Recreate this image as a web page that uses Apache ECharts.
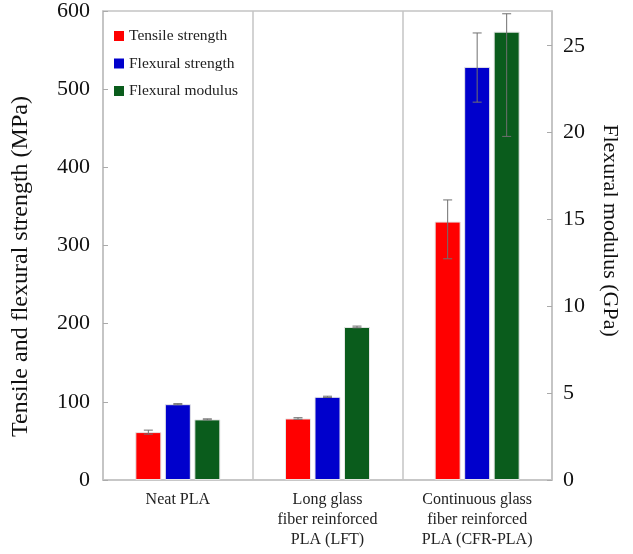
<!DOCTYPE html>
<html>
<head>
<meta charset="utf-8">
<script src="https://cdn.jsdelivr.net/npm/echarts@6/dist/echarts.min.js"></script>
<style>html,body{margin:0;padding:0;background:#fff;}#chart{width:633px;height:554px;}</style>
</head>
<body>
<div id="chart"></div>
<script>
// ---- data ----
const categories = ['Neat PLA', 'Long glass\nfiber reinforced\nPLA (LFT)', 'Continuous glass\nfiber reinforced\nPLA (CFR-PLA)'];
const seriesNames = ['Tensile strength', 'Flexural strength', 'Flexural modulus'];
const tensile = [61.3, 78.7, 330.6];          // MPa
const tensileLow = [58.7, 77.7, 283.0];
const tensileHigh = [63.8, 79.7, 358.3];
const flexStrength = [97.0, 106.4, 528.5];    // MPa
const flexStrengthLow = [96.3, 105.6, 483.4];
const flexStrengthHigh = [97.7, 107.2, 571.9];
const flexModulus = [3.49, 8.81, 25.81];      // GPa
const flexModulusLow = [3.46, 8.76, 19.78];
const flexModulusHigh = [3.52, 8.86, 26.84];
const leftTicks = [0, 600, 100];   // min, max, interval
const rightTicks = [0, 27, 5];

// ---- styles ----
const FONT = 'Liberation Serif';
const colors = ['#ff0000', '#0000cc', '#0a5c1c'];
const BAR_W = 26, BAR_GAP_PX = 3.5;
const offsets = [-(BAR_W + BAR_GAP_PX), 0, BAR_W + BAR_GAP_PX];

function errData(lo, hi) { return categories.map((c, i) => [i, lo[i], hi[i]]); }

function errSeries(name, lo, hi, yIdx, off) {
  return {
    type: 'custom', name: name + ' err', yAxisIndex: yIdx, z: 10,
    silent: true, legendHoverLink: false,
    encode: { x: 0, y: [1, 2] },
    data: errData(lo, hi),
    renderItem: function (params, api) {
      const a = api.coord([api.value(0), api.value(1)]);
      const b = api.coord([api.value(0), api.value(2)]);
      const x = a[0] + off, hw = 4.5;
      const st = { stroke: '#707070', lineWidth: 1 };
      return { type: 'group', children: [
        { type: 'line', shape: { x1: x, y1: a[1], x2: x, y2: b[1] }, style: st },
        { type: 'line', shape: { x1: x - hw, y1: a[1], x2: x + hw, y2: a[1] }, style: st },
        { type: 'line', shape: { x1: x - hw, y1: b[1], x2: x + hw, y2: b[1] }, style: st }
      ]};
    }
  };
}

const axisLineStyle = { color: '#c4c4c4', width: 1.5 };

const chart = echarts.init(document.getElementById('chart'), null, { renderer: 'canvas' });
chart.setOption({
  backgroundColor: '#fff',
  animation: false,
  grid: { left: 103, right: 81, top: 10, bottom: 74, show: true, borderColor: '#c4c4c4', borderWidth: 1.5 },
  legend: {
    data: seriesNames, orient: 'vertical', left: 109, top: 23,
    itemWidth: 10, itemHeight: 10, itemGap: 11.5, icon: 'rect',
    itemStyle: { borderWidth: 0 },
    textStyle: { fontFamily: FONT, fontSize: 15.5, color: '#222' }
  },
  xAxis: {
    type: 'category', data: categories,
    axisLine: { lineStyle: axisLineStyle },
    axisTick: { show: false },
    splitLine: { show: true, lineStyle: { color: '#c4c4c4', width: 1.5 } },
    axisLabel: { fontFamily: FONT, fontSize: 16, color: '#222', lineHeight: 20, margin: 10 }
  },
  yAxis: [{
    type: 'value', min: leftTicks[0], max: leftTicks[1], interval: leftTicks[2],
    name: 'Tensile and flexural strength (MPa)', nameLocation: 'middle', nameGap: 70,
    nameTextStyle: { fontFamily: FONT, fontSize: 24, color: '#111', padding: [0, 42, 0, 0] },
    axisLine: { show: true, lineStyle: axisLineStyle },
    axisTick: { show: true, inside: true, length: 5, lineStyle: { color: '#aaa' } },
    splitLine: { show: false },
    axisLabel: { fontFamily: FONT, fontSize: 22, color: '#111', margin: 13 }
  }, {
    type: 'value', position: 'right', min: rightTicks[0], max: rightTicks[1], interval: rightTicks[2],
    name: 'Flexural modulus (GPa)', nameLocation: 'middle', nameGap: 47, nameRotate: -90,
    nameTextStyle: { fontFamily: FONT, fontSize: 22, color: '#111', padding: [0, 30, 0, 0] },
    axisLine: { show: true, lineStyle: axisLineStyle },
    axisTick: { show: true, inside: true, length: 5, lineStyle: { color: '#aaa' } },
    splitLine: { show: false },
    axisLabel: { fontFamily: FONT, fontSize: 22, color: '#111', margin: 11, showMaxLabel: false }
  }],
  series: [
    { type: 'bar', name: seriesNames[0], data: tensile, yAxisIndex: 0, barWidth: BAR_W, barGap: (BAR_GAP_PX / BAR_W * 100) + '%',
      itemStyle: { color: colors[0], borderColor: '#e6e6e6', borderWidth: 1 } },
    { type: 'bar', name: seriesNames[1], data: flexStrength, yAxisIndex: 0, barWidth: BAR_W, barGap: (BAR_GAP_PX / BAR_W * 100) + '%',
      itemStyle: { color: colors[1], borderColor: '#e6e6e6', borderWidth: 1 } },
    { type: 'bar', name: seriesNames[2], data: flexModulus, yAxisIndex: 1, barWidth: BAR_W, barGap: (BAR_GAP_PX / BAR_W * 100) + '%',
      itemStyle: { color: colors[2], borderColor: '#e6e6e6', borderWidth: 1 } },
    errSeries(seriesNames[0], tensileLow, tensileHigh, 0, offsets[0]),
    errSeries(seriesNames[1], flexStrengthLow, flexStrengthHigh, 0, offsets[1]),
    errSeries(seriesNames[2], flexModulusLow, flexModulusHigh, 1, offsets[2])
  ]
});
</script>
</body>
</html>
